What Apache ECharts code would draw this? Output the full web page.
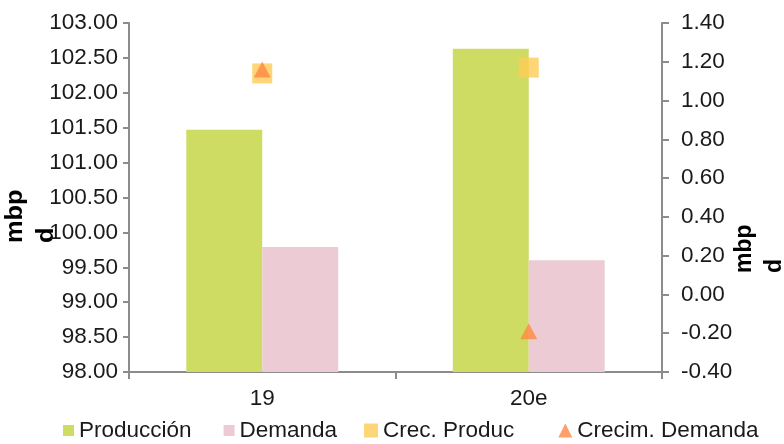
<!DOCTYPE html>
<html>
<head>
<meta charset="utf-8">
<script src="https://cdn.jsdelivr.net/npm/echarts@6/dist/echarts.min.js"></script>
<style>
  html, body { margin: 0; padding: 0; background: #fff; }
  #chart { width: 784px; height: 444px; }
</style>
</head>
<body>
<div id="chart"></div>
<script>
// Categories (years) and series values
const categories = ['19', '20e'];
const produccion = [101.47, 102.63];     // mbpd, left axis
const demanda = [99.79, 99.60];          // mbpd, left axis
const crecProduc = [1.14, 1.17];         // mbpd growth, right axis
const crecimDemanda = [1.16, -0.19];     // mbpd growth, right axis

const FONT = '"Liberation Sans", Arial, sans-serif';
const TEXT = '#1a1a1a';
const AXIS = '#8c8c8c';
const FS = 22.5;

const chart = echarts.init(document.getElementById('chart'), null, { renderer: 'canvas' });

const legendText = { fontFamily: FONT, fontSize: FS, color: TEXT };

chart.setOption({
  backgroundColor: '#ffffff',
  animation: false,
  textStyle: { fontFamily: FONT },
  grid: { left: 129, right: 122, top: 23, bottom: 72, containLabel: false },
  legend: [
    {
      left: 58, top: 414, padding: 5,
      itemWidth: 11, itemHeight: 11, itemGap: 32,
      textStyle: legendText,
      data: [
        { name: 'Producción', icon: 'rect' },
        { name: 'Demanda', icon: 'rect' }
      ]
    },
    {
      left: 359, top: 414, padding: 5,
      itemWidth: 14, itemHeight: 14, itemGap: 44,
      textStyle: legendText,
      data: [
        { name: 'Crec. Produc', icon: 'rect' },
        { name: 'Crecim. Demanda', icon: 'triangle' }
      ]
    }
  ],
  xAxis: {
    type: 'category',
    data: categories,
    axisLine: { onZero: false, lineStyle: { color: AXIS, width: 2 } },
    axisTick: { show: true, length: 7, lineStyle: { color: AXIS, width: 2 } },
    axisLabel: { fontFamily: FONT, fontSize: FS, color: TEXT, margin: 15 }
  },
  yAxis: [
    {
      type: 'value',
      min: 98, max: 103, interval: 0.5,
      axisLine: { show: true, lineStyle: { color: AXIS, width: 2 } },
      axisTick: { show: true, length: 6, lineStyle: { color: AXIS, width: 2 } },
      splitLine: { show: false },
      axisLabel: {
        fontFamily: FONT, fontSize: FS, color: TEXT, margin: 11,
        formatter: v => v.toFixed(2)
      }
    },
    {
      type: 'value',
      min: -0.4, max: 1.4, interval: 0.2,
      position: 'right',
      axisLine: { show: true, lineStyle: { color: AXIS, width: 2 } },
      axisTick: { show: true, length: 7, lineStyle: { color: AXIS, width: 2 } },
      splitLine: { show: false },
      axisLabel: {
        fontFamily: FONT, fontSize: FS, color: TEXT, margin: 19,
        formatter: v => (Math.abs(v) < 1e-9 ? 0 : v).toFixed(2)
      }
    }
  ],
  graphic: [
    {
      type: 'text', x: 0, y: 243, rotation: Math.PI / 2, scaleX: 1.1,
      style: {
        text: 'mbp\nd', fill: '#000', font: 'bold 23px ' + FONT,
        lineHeight: 31, align: 'left', verticalAlign: 'top'
      }
    },
    {
      type: 'text', x: 730, y: 273, rotation: Math.PI / 2,
      style: {
        text: 'mbp\nd', fill: '#000', font: 'bold 23px ' + FONT,
        lineHeight: 30, align: 'left', verticalAlign: 'top'
      }
    }
  ],
  series: [
    {
      name: 'Producción', type: 'bar', data: produccion,
      barGap: '0%', barCategoryGap: '43%',
      itemStyle: { color: '#cedc63' }
    },
    {
      name: 'Demanda', type: 'bar', data: demanda,
      itemStyle: { color: '#edcbd5' }
    },
    {
      name: 'Crec. Produc', type: 'scatter', yAxisIndex: 1, data: crecProduc,
      symbol: 'rect', symbolSize: 20, z: 3,
      itemStyle: { color: '#ffcc55' }
    },
    {
      name: 'Crecim. Demanda', type: 'scatter', yAxisIndex: 1, data: crecimDemanda,
      symbol: 'triangle', symbolSize: [17, 16], z: 4,
      itemStyle: { color: '#ff8844' }
    }
  ]
});
</script>
</body>
</html>
